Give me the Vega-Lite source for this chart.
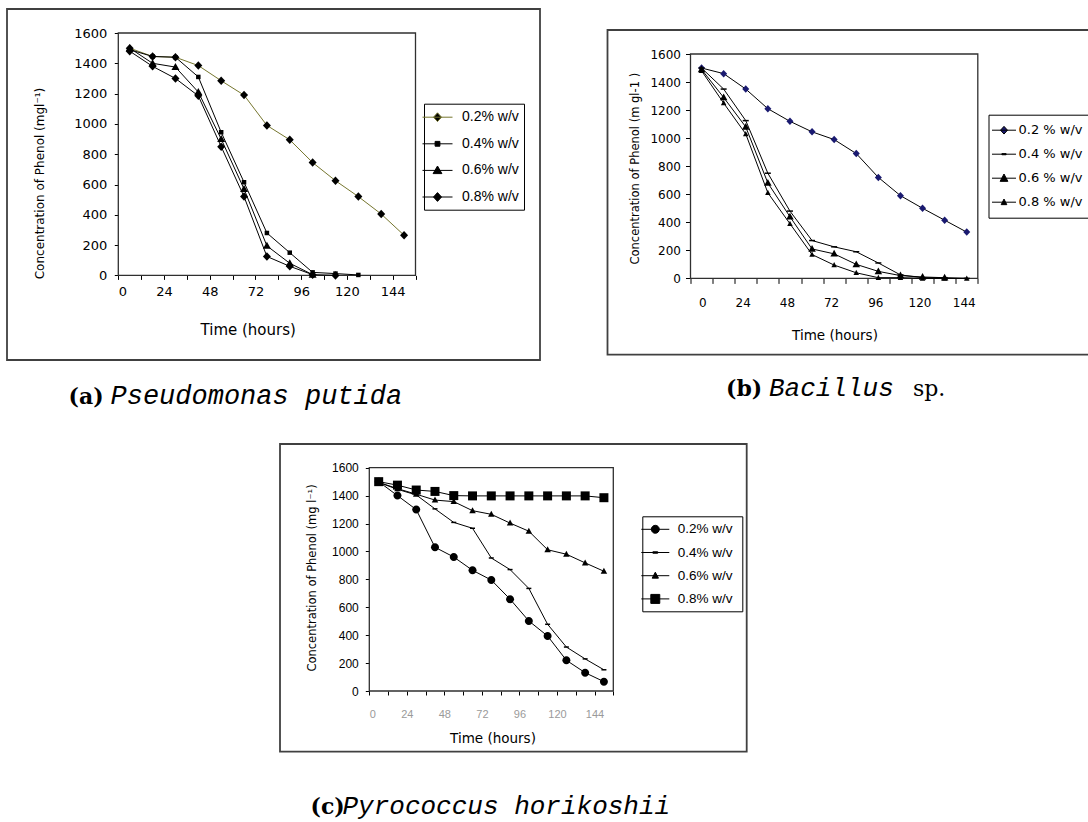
{
  "$schema": "https://vega.github.io/schema/vega-lite/v6.json",
  "autosize": {"type": "none"},
  "padding": {"left": 7, "top": 9, "right": 1081, "bottom": 813},
  "background": "white",
  "config": {
    "view": {"stroke": "#404040", "strokeWidth": 1.8},
    "axis": {"grid": false}
  },
  "spacing": 34,
  "resolve": {"scale": {"shape": "independent", "fill": "independent", "color": "independent", "stroke": "independent"}, "legend": {"shape": "independent", "fill": "independent", "color": "independent", "stroke": "independent"}},
  "vconcat": [
    {
      "spacing": 65.5,
      "resolve": {"scale": {"shape": "independent", "fill": "independent", "color": "independent", "stroke": "independent"}, "legend": {"shape": "independent", "fill": "independent", "color": "independent", "stroke": "independent"}},
      "hconcat": [
        {
          "width": 533,
          "height": 351,
          "data": {"values": [
            {"series": "0.2% w/v", "hour": 6, "conc": 1500},
            {"series": "0.2% w/v", "hour": 18, "conc": 1445},
            {"series": "0.2% w/v", "hour": 30, "conc": 1440},
            {"series": "0.2% w/v", "hour": 42, "conc": 1385},
            {"series": "0.2% w/v", "hour": 54, "conc": 1285},
            {"series": "0.2% w/v", "hour": 66, "conc": 1190},
            {"series": "0.2% w/v", "hour": 78, "conc": 990},
            {"series": "0.2% w/v", "hour": 90, "conc": 895},
            {"series": "0.2% w/v", "hour": 102, "conc": 745},
            {"series": "0.2% w/v", "hour": 114, "conc": 625},
            {"series": "0.2% w/v", "hour": 126, "conc": 520},
            {"series": "0.2% w/v", "hour": 138, "conc": 405},
            {"series": "0.2% w/v", "hour": 150, "conc": 265},
            {"series": "0.4% w/v", "hour": 6, "conc": 1490},
            {"series": "0.4% w/v", "hour": 18, "conc": 1445},
            {"series": "0.4% w/v", "hour": 30, "conc": 1440},
            {"series": "0.4% w/v", "hour": 42, "conc": 1310},
            {"series": "0.4% w/v", "hour": 54, "conc": 945},
            {"series": "0.4% w/v", "hour": 66, "conc": 615},
            {"series": "0.4% w/v", "hour": 78, "conc": 280},
            {"series": "0.4% w/v", "hour": 90, "conc": 150},
            {"series": "0.4% w/v", "hour": 102, "conc": 20},
            {"series": "0.4% w/v", "hour": 114, "conc": 12},
            {"series": "0.4% w/v", "hour": 126, "conc": 3},
            {"series": "0.6% w/v", "hour": 6, "conc": 1500},
            {"series": "0.6% w/v", "hour": 18, "conc": 1400},
            {"series": "0.6% w/v", "hour": 30, "conc": 1375},
            {"series": "0.6% w/v", "hour": 42, "conc": 1210},
            {"series": "0.6% w/v", "hour": 54, "conc": 900},
            {"series": "0.6% w/v", "hour": 66, "conc": 570},
            {"series": "0.6% w/v", "hour": 78, "conc": 195},
            {"series": "0.6% w/v", "hour": 90, "conc": 80},
            {"series": "0.6% w/v", "hour": 102, "conc": 5},
            {"series": "0.8% w/v", "hour": 6, "conc": 1480},
            {"series": "0.8% w/v", "hour": 18, "conc": 1380},
            {"series": "0.8% w/v", "hour": 30, "conc": 1300},
            {"series": "0.8% w/v", "hour": 42, "conc": 1185},
            {"series": "0.8% w/v", "hour": 54, "conc": 850},
            {"series": "0.8% w/v", "hour": 66, "conc": 520},
            {"series": "0.8% w/v", "hour": 78, "conc": 125},
            {"series": "0.8% w/v", "hour": 90, "conc": 60},
            {"series": "0.8% w/v", "hour": 102, "conc": 5},
            {"series": "0.8% w/v", "hour": 114, "conc": 0}
          ]},
          "resolve": {"axis": {"x": "independent", "y": "independent"}, "scale": {"shape": "independent", "fill": "independent", "stroke": "independent", "color": "independent"}},
          "layer": [
            {
              "data": {"values": [{}]},
              "mark": {"type": "rect", "filled": false, "stroke": "#303030", "strokeWidth": 1.3},
              "encoding": {
                "x": {"datum": 0, "type": "quantitative",
                  "scale": {"domain": [0, 156], "range": [111.3, 408.5], "nice": false, "zero": false},
                  "axis": {"orient": "bottom", "offset": 0, "domain": false, "ticks": false, "labels": false, "grid": false,
                    "title": "Pseudomonas putida", "titleFont": "Liberation Mono", "titleFontStyle": "italic", "titleFontWeight": "normal",
                    "titleFontSize": 27, "titleColor": "black", "titleX": 103, "titleY": 43, "titleAlign": "left", "titleBaseline": "alphabetic"}},
                "x2": {"datum": 156},
                "y": {"datum": 0, "type": "quantitative",
                  "scale": {"domain": [0, 1600], "range": [266.4, 24], "nice": false, "zero": false},
                  "axis": {"orient": "right", "domain": false, "ticks": false, "labels": false, "grid": false,
                    "title": "(a)", "titleAngle": 0, "titleFont": "DejaVu Serif", "titleFontWeight": "bold", "titleFontSize": 22,
                    "titleColor": "black", "titleX": -472, "titleY": 394, "titleAlign": "left", "titleBaseline": "alphabetic"}},
                "y2": {"datum": 1600}
              }
            },
            {
              "mark": {"type": "line", "strokeWidth": 1},
              "encoding": {
                "x": {"field": "hour", "type": "quantitative",
                  "scale": {"domain": [0, 156], "range": [111.3, 408.5], "nice": false, "zero": false},
                  "axis": {"orient": "bottom", "offset": -84.6, "values": [0, 12, 24, 36, 48, 60, 72, 84, 96, 108, 120, 132, 144, 156],
                    "labelExpr": "datum.value % 24 === 0 && datum.value <= 144 ? datum.label : ''",
                    "domain": false, "tickSize": 4, "tickColor": "black", "tickWidth": 1,
                    "labelFont": "DejaVu Sans", "labelFontSize": 13, "labelColor": "black", "labelPadding": 6.4,
                    "labelFlush": true, "labelOverlap": false, "labelBound": false, "grid": false,
                    "title": "Time (hours)", "titleFont": "DejaVu Sans", "titleFontSize": 15, "titleFontWeight": "normal",
                    "titleColor": "black", "titleX": 240.7, "titleY": 54.3, "titleAlign": "center", "titleBaseline": "middle"}},
                "y": {"field": "conc", "type": "quantitative",
                  "scale": {"domain": [0, 1600], "range": [266.4, 24], "nice": false, "zero": false},
                  "axis": {"orient": "left", "offset": -111.3, "values": [0, 200, 400, 600, 800, 1000, 1200, 1400, 1600], "format": "d",
                    "domain": false, "tickSize": 4, "tickColor": "black", "tickWidth": 1,
                    "labelFont": "DejaVu Sans", "labelFontSize": 13, "labelColor": "black", "labelPadding": 7.5, "grid": false,
                    "title": "Concentration of Phenol (mgl⁻¹)", "titleFont": "DejaVu Sans", "titleFontSize": 12, "titleFontWeight": "normal",
                    "titleColor": "black", "titleAngle": -90, "titleX": -79, "titleY": 174, "titleAlign": "center", "titleBaseline": "middle"}},
                "color": {"field": "series", "type": "nominal",
                  "scale": {"range": ["#76762e", "black", "black", "black"]},
                  "legend": null}
              }
            },
            {
              "mark": {"type": "point", "filled": true, "size": 100, "opacity": 1, "color": "black"},
              "encoding": {
                "x": {"field": "hour", "type": "quantitative", "axis": null},
                "y": {"field": "conc", "type": "quantitative", "axis": null},
                "shape": {"field": "series", "type": "nominal",
                  "scale": {"range": ["M0,-0.85L0.8,0L0,0.85L-0.8,0Z", "M-0.45,-0.45H0.45V0.45H-0.45Z", "M0,-0.8L0.8,0.6H-0.8Z", "M0,-0.85L0.8,0L0,0.85L-0.8,0Z"]},
                  "legend": null}
              }
            },
            {
              "mark": {"type": "point", "filled": true, "size": 100, "opacity": 0, "fill": "black"},
              "encoding": {
                "x": {"field": "hour", "type": "quantitative", "axis": null},
                "y": {"field": "conc", "type": "quantitative", "axis": null},
                "shape": {"field": "series", "type": "nominal",
                  "scale": {"domain": ["0.2% w/v", "0.4% w/v", "0.6% w/v", "0.8% w/v"],
                    "range": ["M-1.875,0H1.875M0,-0.55L0.5,0L0,0.55L-0.5,0Z", "M-1.875,0H1.875M-0.3,-0.3H0.3V0.3H-0.3Z", "M-1.875,0H1.875M0,-0.55L0.55,0.4H-0.55Z", "M-1.875,0H1.875M0,-0.55L0.5,0L0,0.55L-0.5,0Z"]},
                  "legend": {
                    "title": null, "orient": "none", "legendX": 417, "legendY": 94.7,
                    "padding": 5, "strokeColor": "black", "fillColor": "white",
                    "symbolSize": 256, "symbolStrokeWidth": 1, "symbolOpacity": 1, "rowPadding": 10.6, "labelOffset": 16,
                    "labelFont": "Liberation Sans", "labelFontSize": 14, "labelColor": "black", "labelLimit": 300
                  }},
                "stroke": {"field": "series", "type": "nominal",
                  "scale": {"domain": ["0.2% w/v", "0.4% w/v", "0.6% w/v", "0.8% w/v"], "range": ["#76762e", "black", "black", "black"]}}
              }
            }
          ]
        },
        {
          "spacing": 0,
          "vconcat": [
            {"width": 20, "height": 20, "view": {"stroke": null}, "data": {"values": []}, "mark": "point"},
            {
              "width": 540,
              "height": 324.7,
              "data": {"values": [
                {"series": "0.2 % w/v", "hour": 0, "conc": 1500},
                {"series": "0.2 % w/v", "hour": 12, "conc": 1460},
                {"series": "0.2 % w/v", "hour": 24, "conc": 1350},
                {"series": "0.2 % w/v", "hour": 36, "conc": 1210},
                {"series": "0.2 % w/v", "hour": 48, "conc": 1120},
                {"series": "0.2 % w/v", "hour": 60, "conc": 1045},
                {"series": "0.2 % w/v", "hour": 72, "conc": 990},
                {"series": "0.2 % w/v", "hour": 84, "conc": 890},
                {"series": "0.2 % w/v", "hour": 96, "conc": 720},
                {"series": "0.2 % w/v", "hour": 108, "conc": 590},
                {"series": "0.2 % w/v", "hour": 120, "conc": 500},
                {"series": "0.2 % w/v", "hour": 132, "conc": 415},
                {"series": "0.2 % w/v", "hour": 144, "conc": 330},
                {"series": "0.4 % w/v", "hour": 0, "conc": 1500},
                {"series": "0.4 % w/v", "hour": 12, "conc": 1350},
                {"series": "0.4 % w/v", "hour": 24, "conc": 1125},
                {"series": "0.4 % w/v", "hour": 36, "conc": 750},
                {"series": "0.4 % w/v", "hour": 48, "conc": 480},
                {"series": "0.4 % w/v", "hour": 60, "conc": 270},
                {"series": "0.4 % w/v", "hour": 72, "conc": 225},
                {"series": "0.4 % w/v", "hour": 84, "conc": 190},
                {"series": "0.4 % w/v", "hour": 96, "conc": 110},
                {"series": "0.4 % w/v", "hour": 108, "conc": 25},
                {"series": "0.4 % w/v", "hour": 120, "conc": 5},
                {"series": "0.4 % w/v", "hour": 132, "conc": 5},
                {"series": "0.4 % w/v", "hour": 144, "conc": 0},
                {"series": "0.6 % w/v", "hour": 0, "conc": 1490},
                {"series": "0.6 % w/v", "hour": 12, "conc": 1290},
                {"series": "0.6 % w/v", "hour": 24, "conc": 1080},
                {"series": "0.6 % w/v", "hour": 36, "conc": 680},
                {"series": "0.6 % w/v", "hour": 48, "conc": 440},
                {"series": "0.6 % w/v", "hour": 60, "conc": 210},
                {"series": "0.6 % w/v", "hour": 72, "conc": 175},
                {"series": "0.6 % w/v", "hour": 84, "conc": 100},
                {"series": "0.6 % w/v", "hour": 96, "conc": 50},
                {"series": "0.6 % w/v", "hour": 108, "conc": 20},
                {"series": "0.6 % w/v", "hour": 120, "conc": 10},
                {"series": "0.6 % w/v", "hour": 132, "conc": 5},
                {"series": "0.8 % w/v", "hour": 0, "conc": 1480},
                {"series": "0.8 % w/v", "hour": 12, "conc": 1250},
                {"series": "0.8 % w/v", "hour": 24, "conc": 1030},
                {"series": "0.8 % w/v", "hour": 36, "conc": 610},
                {"series": "0.8 % w/v", "hour": 48, "conc": 390},
                {"series": "0.8 % w/v", "hour": 60, "conc": 170},
                {"series": "0.8 % w/v", "hour": 72, "conc": 95},
                {"series": "0.8 % w/v", "hour": 84, "conc": 40},
                {"series": "0.8 % w/v", "hour": 96, "conc": 5},
                {"series": "0.8 % w/v", "hour": 108, "conc": 5},
                {"series": "0.8 % w/v", "hour": 120, "conc": 0},
                {"series": "0.8 % w/v", "hour": 132, "conc": 0},
                {"series": "0.8 % w/v", "hour": 144, "conc": 0}
              ]},
              "resolve": {"axis": {"x": "independent", "y": "independent"}, "scale": {"shape": "independent", "fill": "independent", "stroke": "independent", "color": "independent"}},
              "layer": [
                {
                  "data": {"values": [{}]},
                  "mark": {"type": "rect", "filled": false, "stroke": "#303030", "strokeWidth": 1.3},
                  "encoding": {
                    "x": {"datum": -6, "type": "quantitative",
                      "scale": {"domain": [-6, 150], "range": [83, 370.3], "nice": false, "zero": false},
                      "axis": {"orient": "bottom", "offset": 0, "domain": false, "ticks": false, "labels": false, "grid": false,
                        "title": "Bacillus", "titleFont": "Liberation Mono", "titleFontStyle": "italic", "titleFontWeight": "normal",
                        "titleFontSize": 26, "titleColor": "black", "titleX": 161, "titleY": 41, "titleAlign": "left", "titleBaseline": "alphabetic"}},
                    "x2": {"datum": 150},
                    "y": {"datum": 0, "type": "quantitative",
                      "scale": {"domain": [0, 1600], "range": [248.4, 24], "nice": false, "zero": false},
                      "axis": {"orient": "right", "domain": false, "ticks": false, "labels": false, "grid": false,
                        "title": "(b)", "titleAngle": 0, "titleFont": "DejaVu Serif", "titleFontWeight": "bold", "titleFontSize": 22,
                        "titleColor": "black", "titleX": -422, "titleY": 365.7, "titleAlign": "left", "titleBaseline": "alphabetic"}},
                    "y2": {"datum": 1600}
                  }
                },
                {
                  "mark": {"type": "line", "strokeWidth": 1, "color": "black"},
                  "encoding": {
                    "x": {"field": "hour", "type": "quantitative",
                      "scale": {"domain": [-6, 150], "range": [83, 370.3], "nice": false, "zero": false},
                      "axis": {"orient": "bottom", "offset": -76.3, "values": [-6, 6, 18, 30, 42, 54, 66, 78, 90, 102, 114, 126, 138, 150],
                        "labelExpr": "(datum.value + 6) % 24 === 0 && datum.value < 150 ? '' + (datum.value + 6) : ''",
                        "labelOffset": 8,
                        "domain": false, "tickSize": 5, "tickColor": "black", "tickWidth": 1,
                        "labelFont": "DejaVu Sans", "labelFontSize": 12, "labelColor": "black", "labelPadding": 13.6,
                        "labelFlush": true, "labelOverlap": false, "labelBound": false, "grid": false,
                        "title": "Time (hours)", "titleFont": "DejaVu Sans", "titleFontSize": 13.5, "titleFontWeight": "normal",
                        "titleColor": "black", "titleX": 227, "titleY": 57.3, "titleAlign": "center", "titleBaseline": "middle"}},
                    "y": {"field": "conc", "type": "quantitative",
                      "scale": {"domain": [0, 1600], "range": [248.4, 24], "nice": false, "zero": false},
                      "axis": {"orient": "left", "offset": -83, "values": [0, 200, 400, 600, 800, 1000, 1200, 1400, 1600], "format": "d",
                        "domain": false, "tickSize": 5, "tickColor": "black", "tickWidth": 1,
                        "labelFont": "DejaVu Sans", "labelFontSize": 12, "labelColor": "black", "labelPadding": 5, "grid": false,
                        "title": "Concentration of Phenol (m gl-1 )", "titleFont": "DejaVu Sans", "titleFontSize": 11.5, "titleFontWeight": "normal",
                        "titleColor": "black", "titleAngle": -90, "titleX": -55, "titleY": 138.2, "titleAlign": "center", "titleBaseline": "middle"}},
                    "detail": {"field": "series", "type": "nominal"}
                  }
                },
                {
                  "mark": {"type": "point", "filled": true, "size": 100, "opacity": 1},
                  "encoding": {
                    "x": {"field": "hour", "type": "quantitative",
                      "axis": {"orient": "top", "domain": false, "ticks": false, "labels": false, "grid": false,
                        "title": "sp.", "titleFont": "DejaVu Serif", "titleFontWeight": "normal", "titleFontStyle": "normal", "titleFontSize": 22,
                        "titleColor": "black", "titleX": 305, "titleY": 365.7, "titleAlign": "left", "titleBaseline": "alphabetic"}},
                    "y": {"field": "conc", "type": "quantitative", "axis": null},
                    "shape": {"field": "series", "type": "nominal",
                      "scale": {"range": ["M0,-0.75L0.7,0L0,0.75L-0.7,0Z", "M-0.6,-0.15H0.6V0.15H-0.6Z", "M0,-0.8L0.75,0.55H-0.75Z", "M0,-0.6L0.55,0.45H-0.55Z"]},
                      "legend": null},
                    "fill": {"field": "series", "type": "nominal",
                      "scale": {"range": ["#1a1a70", "black", "black", "black"]},
                      "legend": null}
                  }
                },
                {
                  "mark": {"type": "point", "filled": true, "size": 100, "opacity": 0},
                  "encoding": {
                    "x": {"field": "hour", "type": "quantitative", "axis": null},
                    "y": {"field": "conc", "type": "quantitative", "axis": null},
                    "shape": {"field": "series", "type": "nominal",
                      "scale": {"domain": ["0.2 % w/v", "0.4 % w/v", "0.6 % w/v", "0.8 % w/v"],
                        "range": ["M-1.714,0H1.714M0,-0.55L0.5,0L0,0.55L-0.5,0Z", "M-1.714,0H1.714M-0.3,-0.08H0.3V0.08H-0.3Z", "M-1.714,0H1.714M0,-0.6L0.55,0.45H-0.55Z", "M-1.714,0H1.714M0,-0.45L0.4,0.35H-0.4Z"]},
                      "legend": {
                        "title": null, "orient": "none", "legendX": 381, "legendY": 84.7,
                        "padding": 8, "strokeColor": "black", "fillColor": "white",
                        "symbolSize": 196, "symbolStrokeWidth": 1, "symbolOpacity": 1, "rowPadding": 9, "labelOffset": 7,
                        "labelFont": "DejaVu Sans", "labelFontSize": 13, "labelColor": "black", "labelLimit": 300
                      }},
                    "fill": {"field": "series", "type": "nominal",
                      "scale": {"domain": ["0.2 % w/v", "0.4 % w/v", "0.6 % w/v", "0.8 % w/v"], "range": ["#1a1a70", "black", "black", "black"]}},
                    "stroke": {"field": "series", "type": "nominal",
                      "scale": {"domain": ["0.2 % w/v", "0.4 % w/v", "0.6 % w/v", "0.8 % w/v"], "range": ["black", "black", "black", "black"]}}
                  }
                }
              ]
            }
          ]
        }
      ]
    },
    {
      "spacing": 0,
      "resolve": {"scale": {"shape": "independent", "fill": "independent", "color": "independent", "stroke": "independent"}, "legend": {"shape": "independent", "fill": "independent", "color": "independent", "stroke": "independent"}},
      "hconcat": [
        {"width": 272, "height": 10, "view": {"stroke": null}, "data": {"values": []}, "mark": "point"},
        {
          "width": 466.7,
          "height": 307.7,
          "data": {"values": [
            {"series": "0.2% w/v", "hour": 6, "conc": 1500},
            {"series": "0.2% w/v", "hour": 18, "conc": 1400},
            {"series": "0.2% w/v", "hour": 30, "conc": 1300},
            {"series": "0.2% w/v", "hour": 42, "conc": 1030},
            {"series": "0.2% w/v", "hour": 54, "conc": 960},
            {"series": "0.2% w/v", "hour": 66, "conc": 865},
            {"series": "0.2% w/v", "hour": 78, "conc": 795},
            {"series": "0.2% w/v", "hour": 90, "conc": 658},
            {"series": "0.2% w/v", "hour": 102, "conc": 502},
            {"series": "0.2% w/v", "hour": 114, "conc": 394},
            {"series": "0.2% w/v", "hour": 126, "conc": 220},
            {"series": "0.2% w/v", "hour": 138, "conc": 131},
            {"series": "0.2% w/v", "hour": 150, "conc": 67},
            {"series": "0.4%  w/v", "hour": 6, "conc": 1495},
            {"series": "0.4%  w/v", "hour": 18, "conc": 1445},
            {"series": "0.4%  w/v", "hour": 30, "conc": 1405},
            {"series": "0.4%  w/v", "hour": 42, "conc": 1305},
            {"series": "0.4%  w/v", "hour": 54, "conc": 1208},
            {"series": "0.4%  w/v", "hour": 66, "conc": 1166},
            {"series": "0.4%  w/v", "hour": 78, "conc": 953},
            {"series": "0.4%  w/v", "hour": 90, "conc": 870},
            {"series": "0.4%  w/v", "hour": 102, "conc": 735},
            {"series": "0.4%  w/v", "hour": 114, "conc": 478},
            {"series": "0.4%  w/v", "hour": 126, "conc": 315},
            {"series": "0.4%  w/v", "hour": 138, "conc": 230},
            {"series": "0.4%  w/v", "hour": 150, "conc": 152},
            {"series": "0.6% w/v", "hour": 6, "conc": 1495},
            {"series": "0.6% w/v", "hour": 18, "conc": 1450},
            {"series": "0.6% w/v", "hour": 30, "conc": 1410},
            {"series": "0.6% w/v", "hour": 42, "conc": 1368},
            {"series": "0.6% w/v", "hour": 54, "conc": 1357},
            {"series": "0.6% w/v", "hour": 66, "conc": 1292},
            {"series": "0.6% w/v", "hour": 78, "conc": 1266},
            {"series": "0.6% w/v", "hour": 90, "conc": 1203},
            {"series": "0.6% w/v", "hour": 102, "conc": 1145},
            {"series": "0.6% w/v", "hour": 114, "conc": 1012},
            {"series": "0.6% w/v", "hour": 126, "conc": 980},
            {"series": "0.6% w/v", "hour": 138, "conc": 918},
            {"series": "0.6% w/v", "hour": 150, "conc": 858},
            {"series": "0.8% w/v", "hour": 6, "conc": 1500},
            {"series": "0.8% w/v", "hour": 18, "conc": 1475},
            {"series": "0.8% w/v", "hour": 30, "conc": 1440},
            {"series": "0.8% w/v", "hour": 42, "conc": 1430},
            {"series": "0.8% w/v", "hour": 54, "conc": 1400},
            {"series": "0.8% w/v", "hour": 66, "conc": 1398},
            {"series": "0.8% w/v", "hour": 78, "conc": 1398},
            {"series": "0.8% w/v", "hour": 90, "conc": 1398},
            {"series": "0.8% w/v", "hour": 102, "conc": 1398},
            {"series": "0.8% w/v", "hour": 114, "conc": 1398},
            {"series": "0.8% w/v", "hour": 126, "conc": 1398},
            {"series": "0.8% w/v", "hour": 138, "conc": 1398},
            {"series": "0.8% w/v", "hour": 150, "conc": 1385}
          ]},
          "resolve": {"axis": {"x": "independent", "y": "independent"}, "scale": {"shape": "independent", "fill": "independent", "stroke": "independent", "color": "independent"}},
          "layer": [
            {
              "data": {"values": [{}]},
              "mark": {"type": "rect", "filled": false, "stroke": "#303030", "strokeWidth": 1.3},
              "encoding": {
                "x": {"datum": 0, "type": "quantitative",
                  "scale": {"domain": [0, 156], "range": [89.3, 333.3], "nice": false, "zero": false},
                  "axis": {"orient": "bottom", "offset": 0, "domain": false, "ticks": false, "labels": false, "grid": false,
                    "title": "Pyrococcus horikoshii", "titleFont": "Liberation Mono", "titleFontStyle": "italic", "titleFontWeight": "normal",
                    "titleFontSize": 26, "titleColor": "black", "titleX": 62, "titleY": 62, "titleAlign": "left", "titleBaseline": "alphabetic"}},
                "x2": {"datum": 156},
                "y": {"datum": 0, "type": "quantitative",
                  "scale": {"domain": [0, 1600], "range": [247, 23.7], "nice": false, "zero": false},
                  "axis": {"orient": "right", "domain": false, "ticks": false, "labels": false, "grid": false,
                    "title": "(c)", "titleAngle": 0, "titleFont": "DejaVu Serif", "titleFontWeight": "bold", "titleFontSize": 22,
                    "titleColor": "black", "titleX": -436.7, "titleY": 369.7, "titleAlign": "left", "titleBaseline": "alphabetic"}},
                "y2": {"datum": 1600}
              }
            },
            {
              "mark": {"type": "line", "strokeWidth": 1, "color": "black"},
              "encoding": {
                "x": {"field": "hour", "type": "quantitative",
                  "scale": {"domain": [0, 156], "range": [89.3, 333.3], "nice": false, "zero": false},
                  "axis": {"orient": "bottom", "offset": -60.7, "values": [0, 12, 24, 36, 48, 60, 72, 84, 96, 108, 120, 132, 144, 156],
                    "labelExpr": "datum.value % 24 === 0 && datum.value <= 144 ? datum.label : ''",
                    "domain": false, "tickSize": 4, "tickColor": "black", "tickWidth": 1,
                    "labelFont": "Liberation Sans", "labelFontSize": 11, "labelColor": "#9a9a9a", "labelPadding": 13,
                    "labelFlush": true, "labelOverlap": false, "labelBound": false, "grid": false,
                    "title": "Time (hours)", "titleFont": "DejaVu Sans", "titleFontSize": 13.5, "titleFontWeight": "normal",
                    "titleColor": "black", "titleX": 212.5, "titleY": 47.3, "titleAlign": "center", "titleBaseline": "middle"}},
                "y": {"field": "conc", "type": "quantitative",
                  "scale": {"domain": [0, 1600], "range": [247, 23.7], "nice": false, "zero": false},
                  "axis": {"orient": "left", "offset": -89.3, "values": [0, 200, 400, 600, 800, 1000, 1200, 1400, 1600], "format": "d",
                    "domain": false, "tickSize": 4, "tickColor": "black", "tickWidth": 1,
                    "labelFont": "Liberation Sans", "labelFontSize": 12, "labelColor": "black", "labelPadding": 7, "grid": false,
                    "title": "Concentration of Phenol (mg l⁻¹)", "titleFont": "DejaVu Sans", "titleFontSize": 11.5, "titleFontWeight": "normal",
                    "titleColor": "black", "titleAngle": -90, "titleX": -57, "titleY": 133.5, "titleAlign": "center", "titleBaseline": "middle"}},
                "detail": {"field": "series", "type": "nominal"}
              }
            },
            {
              "mark": {"type": "point", "filled": true, "size": 100, "opacity": 1, "color": "black"},
              "encoding": {
                "x": {"field": "hour", "type": "quantitative", "axis": null},
                "y": {"field": "conc", "type": "quantitative", "axis": null},
                "shape": {"field": "series", "type": "nominal",
                  "scale": {"range": ["M-0.8,0A0.8,0.8,0,1,1,0.8,0A0.8,0.8,0,1,1,-0.8,0Z", "M-0.5,-0.15H0.5V0.15H-0.5Z", "M0,-0.7L0.65,0.5H-0.65Z", "M-0.9,-0.9H0.9V0.9H-0.9Z"]},
                  "legend": null}
              }
            },
            {
              "mark": {"type": "point", "filled": true, "size": 100, "opacity": 0, "fill": "black"},
              "encoding": {
                "x": {"field": "hour", "type": "quantitative", "axis": null},
                "y": {"field": "conc", "type": "quantitative", "axis": null},
                "shape": {"field": "series", "type": "nominal",
                  "scale": {"domain": ["0.2% w/v", "0.4%  w/v", "0.6% w/v", "0.8% w/v"],
                    "range": ["M-2,0H2M-0.57,0A0.57,0.57,0,1,1,0.57,0A0.57,0.57,0,1,1,-0.57,0Z", "M-2,0H2M-0.35,-0.1H0.35V0.1H-0.35Z", "M-2,0H2M0,-0.5L0.45,0.35H-0.45Z", "M-2,0H2M-0.64,-0.64H0.64V0.64H-0.64Z"]},
                  "legend": {
                    "title": null, "orient": "none", "legendX": 362.3, "legendY": 72.3,
                    "padding": 5.5, "strokeColor": "black", "fillColor": "white",
                    "symbolSize": 196, "symbolStrokeWidth": 1, "symbolOpacity": 1, "rowPadding": 9.2, "labelOffset": 15,
                    "labelFont": "Liberation Sans", "labelFontSize": 13.5, "labelColor": "black", "labelLimit": 300
                  }},
                "stroke": {"field": "series", "type": "nominal",
                  "scale": {"domain": ["0.2% w/v", "0.4%  w/v", "0.6% w/v", "0.8% w/v"], "range": ["black", "black", "black", "black"]}}
              }
            }
          ]
        }
      ]
    }
  ]
}
